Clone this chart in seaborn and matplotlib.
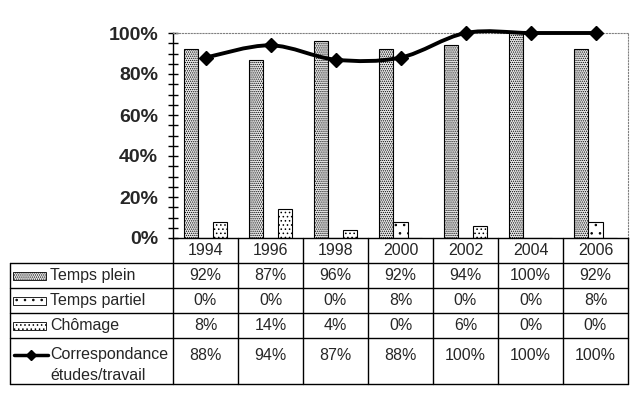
import numpy as np
import pandas as pd
import matplotlib
matplotlib.use("Agg")
import matplotlib.pyplot as plt
import seaborn as sns
from matplotlib.path import Path
from matplotlib.patches import PathPatch, Rectangle
from matplotlib.lines import Line2D

# ---------------- data ----------------
years = ["1994", "1996", "1998", "2000", "2002", "2004", "2006"]
temps_plein = [92, 87, 96, 92, 94, 100, 92]
temps_partiel = [0, 0, 0, 8, 0, 0, 8]
chomage = [8, 14, 4, 0, 6, 0, 0]
correspondance = [88, 94, 87, 88, 100, 100, 100]
series_names = ["Temps plein", "Temps partiel", "Chômage"]
line_label = ["Correspondance", "études/travail"]
y_ticks = [0, 20, 40, 60, 80, 100]

# ---------------- style ----------------
sns.set_theme(style="white")
plt.rcParams['font.family'] = ['Liberation Sans', 'DejaVu Sans']
plt.rcParams['hatch.linewidth'] = 0.6

W, H = 640, 400
fig = plt.figure(figsize=(6.4, 4.0), dpi=100)
fig.patch.set_facecolor("white")


def fx(px):
    return px / W


def fy(py):
    return 1 - py / H


L, R, T, B = 173, 628, 33, 238
ax = fig.add_axes([fx(L), fy(B), fx(R) - fx(L), fy(T) - fy(B)])
ax.set_facecolor("white")

df = pd.DataFrame({
    "Année": years * 3,
    "Série": sum([[n] * len(years) for n in series_names], []),
    "Valeur": temps_plein + temps_partiel + chomage,
})
sns.barplot(data=df, x="Année", y="Valeur", hue="Série", hue_order=series_names,
            order=years, width=0.67, gap=0, ax=ax, legend=False,
            edgecolor="black", linewidth=0.8, saturation=1)

styles = {
    "Temps plein": dict(fc="#e8e8e8", hatch="........"),
    "Temps partiel": dict(fc="white", hatch=".."),
    "Chômage": dict(fc="white", hatch="...."),
}
for cont, name in zip(ax.containers, series_names):
    for p in cont:
        p.set_facecolor(styles[name]["fc"])
        p.set_hatch(styles[name]["hatch"])
        p.set_edgecolor("black")

# smoothed line (Bezier built from the data points)
xs = np.arange(len(years), dtype=float)
pts = np.column_stack([xs, np.array(correspondance, dtype=float)])
n = len(pts)
verts = [pts[0]]
codes = [Path.MOVETO]
for i in range(n - 1):
    p0 = pts[max(i - 1, 0)]
    p1 = pts[i]
    p2 = pts[i + 1]
    p3 = pts[min(i + 2, n - 1)]
    c1 = p1 + (p2 - p0) / 6
    c2 = p2 - (p3 - p1) / 6
    verts += [c1, c2, p2]
    codes += [Path.CURVE4] * 3
ax.add_patch(PathPatch(Path(verts, codes), fill=False, lw=2.8,
                       edgecolor="black", clip_on=False, zorder=4))
ax.plot(xs, correspondance, linestyle="none", marker="D", markersize=7,
        color="black", clip_on=False, zorder=5)

ax.set_xlim(-0.5, len(years) - 0.5)
ax.set_ylim(0, 100)
ax.set_xticks([])
ax.set_xlabel("")
ax.set_ylabel("")
ax.set_yticks(y_ticks)
ax.set_yticklabels([f"{v}%" for v in y_ticks], fontsize=14, fontweight="bold")
ax.set_yticks(np.arange(0, 101, 5), minor=True)
ax.tick_params(axis="y", which="both", direction="inout", length=7.2, width=1,
               color="black", left=True, pad=7.2)
for s in ["left", "bottom"]:
    ax.spines[s].set_color("black")
    ax.spines[s].set_linewidth(1)
for s in ["top", "right"]:
    ax.spines[s].set_color("#808080")
    ax.spines[s].set_linestyle(":")
    ax.spines[s].set_linewidth(0.8)

# ---------------- data table ----------------
def hline(y, x0, x1):
    fig.add_artist(Line2D([fx(x0), fx(x1)], [fy(y), fy(y)], color="black",
                          lw=1, transform=fig.transFigure))


def vline(x, y0, y1):
    fig.add_artist(Line2D([fx(x), fx(x)], [fy(y0), fy(y1)], color="black",
                          lw=1, transform=fig.transFigure))


colw = (R - L) / len(years)
row_bounds = [238, 263, 288, 313, 338, 384]
TL = 10
for y in row_bounds[1:]:
    hline(y, TL, R)
vline(TL, 263, 384)
for k in range(len(years) + 1):
    vline(L + colw * k, 238, 384)

fs = 11.5
for i, yr in enumerate(years):
    cx = L + colw * (i + 0.5)
    fig.text(fx(cx), fy(251), yr, ha="center", va="center", fontsize=fs)

rows = [temps_plein, temps_partiel, chomage]
row_cy = [275.5, 300.5, 325.5]
for vals, cy, name in zip(rows, row_cy, series_names):
    for i, v in enumerate(vals):
        fig.text(fx(L + colw * (i + 0.5)), fy(cy), f"{v}%", ha="center",
                 va="center", fontsize=fs)
    fig.text(fx(50), fy(cy), name, ha="left", va="center", fontsize=fs)
    fig.add_artist(Rectangle((fx(13), fy(cy + 4)), fx(46) - fx(13), 8 / H,
                             transform=fig.transFigure,
                             facecolor=styles[name]["fc"],
                             edgecolor="black", lw=0.6,
                             hatch=styles[name]["hatch"]))

for i, v in enumerate(correspondance):
    fig.text(fx(L + colw * (i + 0.5)), fy(355), f"{v}%", ha="center",
             va="center", fontsize=fs)
fig.text(fx(50), fy(355), line_label[0], ha="left", va="center", fontsize=fs)
fig.text(fx(50), fy(376), line_label[1], ha="left", va="center", fontsize=fs)
fig.add_artist(Line2D([fx(14), fx(48)], [fy(355), fy(355)], color="black",
                      lw=2.5, transform=fig.transFigure))
fig.add_artist(Line2D([fx(31)], [fy(355)], color="black", marker="D",
                      markersize=5.5, linestyle="none",
                      transform=fig.transFigure))

fig.savefig("out.png", dpi=100, facecolor="white")
